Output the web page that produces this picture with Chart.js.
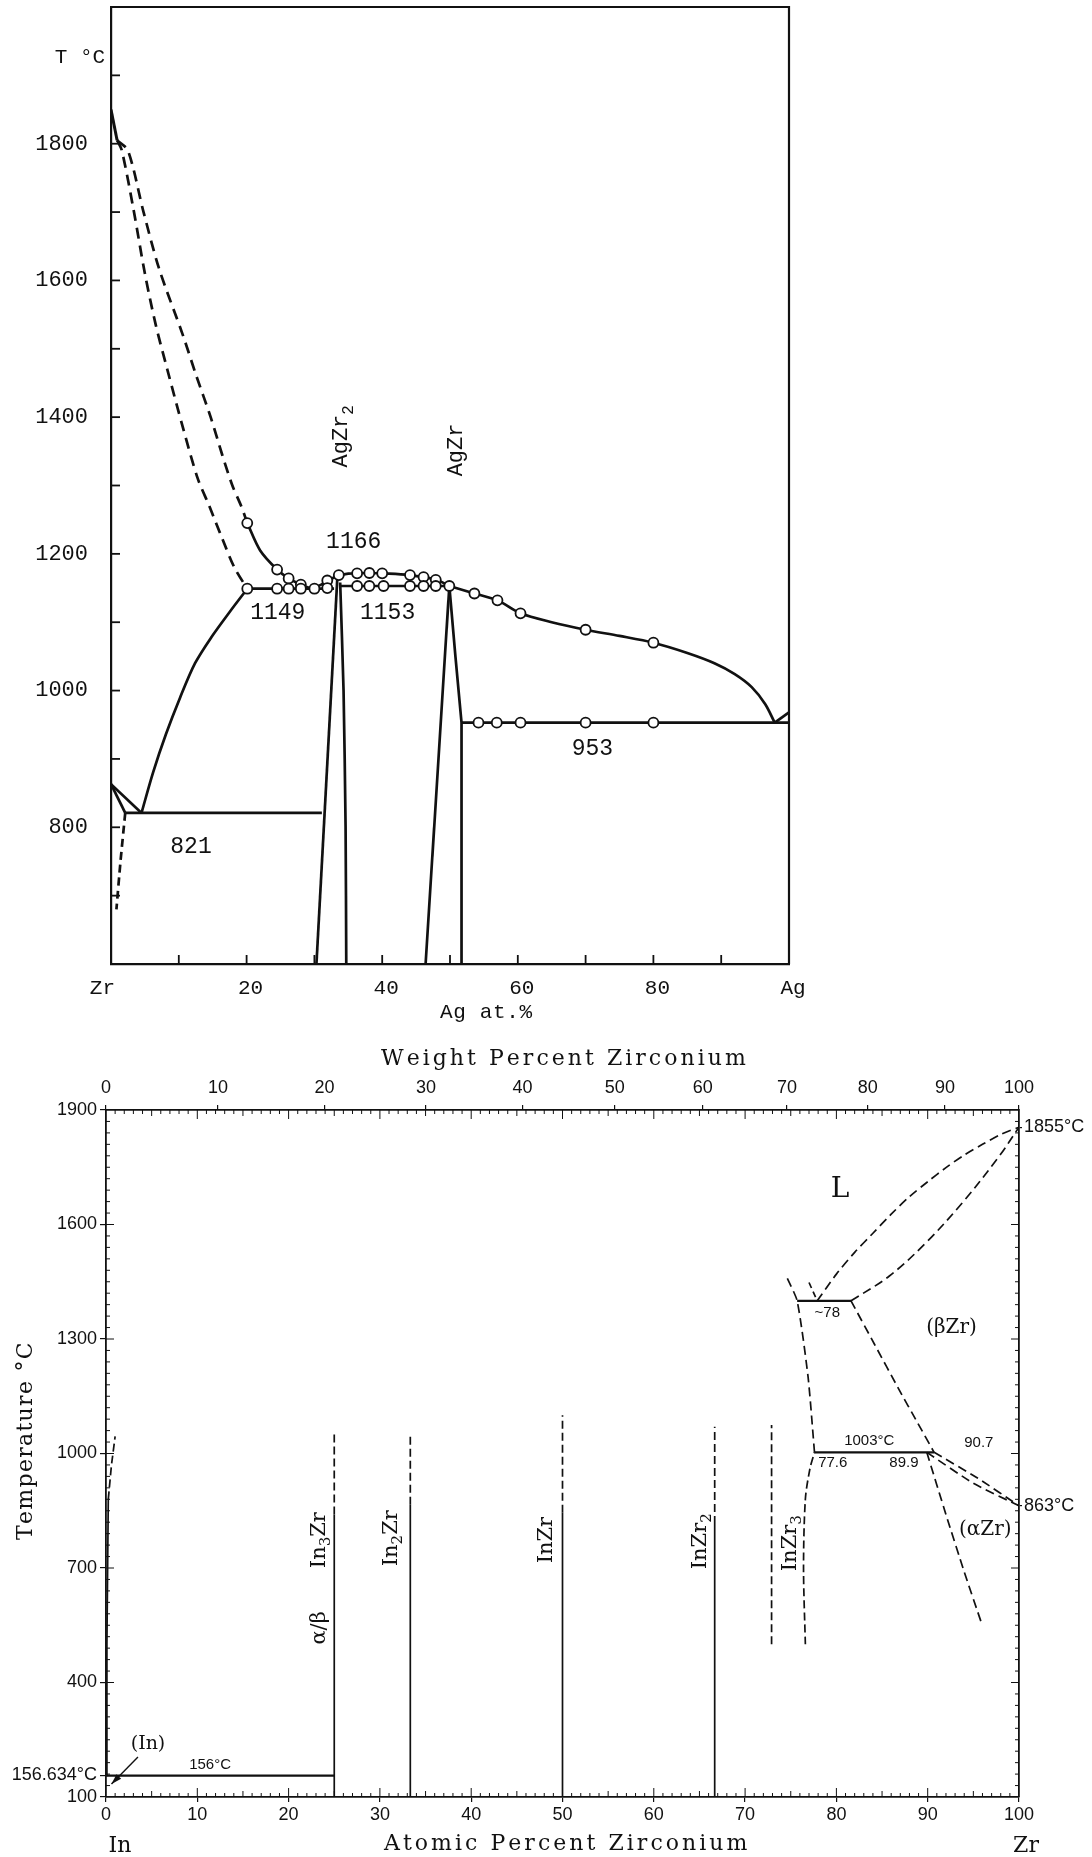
<!DOCTYPE html>
<html>
<head>
<meta charset="utf-8">
<title>Ag-Zr and In-Zr phase diagrams</title>
<script src="https://cdn.jsdelivr.net/npm/chart.js@4.4.1/dist/chart.umd.min.js"></script>
<style>
  html, body { margin: 0; padding: 0; background: #fff; }
  .box { position: absolute; left: 0; width: 1092px; }
  #topBox { top: 0; height: 1040px; }
  #bottomBox { top: 1040px; height: 817px; }
</style>
</head>
<body>
<div class="box" id="topBox"><canvas id="agZrChart"></canvas></div>
<div class="box" id="bottomBox"><canvas id="inZrChart"></canvas></div>
<script>
// ---------- Ag-Zr (upper diagram): x = at.% Ag, y = temperature °C ----------
const agXTicks = [0, 20, 40, 60, 80, 100];
const agXLabels = ['Zr  ', '20', '40', '60', '80', 'Ag'];
const agYTicks = [800, 1000, 1200, 1400, 1600, 1800];

const agZrMelt = [[0, 1850], [0.9, 1805]];
const agLiqDashOuter = [[0.9, 1805], [2.5, 1790], [4.8, 1700], [7.1, 1617], [10.6, 1520], [12.6, 1460], [14.7, 1400], [16.4, 1345], [17.9, 1300], [19.2, 1270], [20.1, 1245]];
const agLiqDashInner = [[0.9, 1805], [1.6, 1790], [3.3, 1705], [5, 1610], [6.6, 1535], [8.3, 1470], [10.6, 1385], [12.8, 1310], [14.5, 1270], [16.3, 1225], [18.2, 1180], [20.1, 1149]];
const agLiqZrSide = [[20.1, 1245], [22, 1205], [24.5, 1177], [26.2, 1164], [28, 1155], [29.6, 1149]];
const agLiqToAgZr2 = [[29.6, 1149], [31, 1155], [32.4, 1163], [33.4, 1168]];
const agEut1149 = [[20.1, 1149], [32.9, 1149]];
const agSolidusZr = [[4.5, 821], [6.2, 880], [8.1, 936], [10.2, 990], [12.4, 1040], [14.8, 1078], [17.5, 1115], [20.1, 1149]];
const agBetaA = [[0, 863], [4.5, 821]];
const agBetaB = [[0, 863], [2.1, 821]];
const agAlphaDash = [[2.1, 821], [1.4, 750], [0.8, 680]];
const agEut821 = [[2.1, 821], [31.1, 821]];
const agZr2Left = [[30.3, 600], [33.4, 1168]];
const agZr2Right = [[33.8, 1158], [34.3, 1000], [34.6, 800], [34.7, 600]];
const agHump = [[33.4, 1168], [35, 1171], [38, 1172], [41, 1171], [44, 1169], [46, 1166], [48, 1162], [49.9, 1153]];
const agPerit1153 = [[33.9, 1153], [49.9, 1153]];
const agZrLeft = [[46.4, 600], [49.9, 1153]];
const agZrRight = [[49.9, 1153], [50.8, 1050], [51.7, 953], [51.7, 600]];
const agLiqAgSide = [[49.9, 1153], [53.6, 1142], [57, 1132], [60.4, 1113], [65, 1100], [70, 1089], [75, 1080], [80, 1070], [85, 1055], [89, 1040], [92, 1024], [94.5, 1005], [96.5, 980], [97.9, 953]];
const agEut953 = [[51.7, 953], [100, 953]];
const agAgMelt = [[97.9, 953], [100, 968]];
const agCircles = [
  [20.1, 1245], [24.5, 1177], [26.2, 1164], [28, 1155], [31.9, 1161], [33.6, 1169],
  [36.3, 1171.5], [38.1, 1172], [40, 1171.5], [44.1, 1169], [46.1, 1166], [47.9, 1162],
  [20.1, 1149], [24.5, 1149], [26.2, 1149], [28, 1149], [30, 1149], [31.9, 1150],
  [36.3, 1153], [38.1, 1153], [40.2, 1153], [44.1, 1153], [46.1, 1153], [47.9, 1153], [49.9, 1153],
  [53.6, 1142], [57, 1132], [60.4, 1113], [70, 1089], [80, 1070],
  [54.2, 953], [56.9, 953], [60.4, 953], [70, 953], [80, 953]
];
const agNumberNotes = [['1166', 35.8, 1218], ['1149', 24.6, 1113], ['1153', 40.8, 1113], ['821', 11.8, 771], ['953', 71, 914]];
const agPhaseNames = [
  { parts: [['AgZr'], ['2', 1]], x: 34, y: 1372 },
  { parts: [['AgZr']], x: 50.9, y: 1352 }
];

// ---------- In-Zr (lower diagram): x = at.% Zr, y = temperature °C ----------
const inXTicks = [0, 10, 20, 30, 40, 50, 60, 70, 80, 90, 100];
const inYTicks = [100, 156.634, 400, 700, 1000, 1300, 1600, 1900];
const inYLabels = ['100', '156.634°C', '400', '700', '1000', '1300', '1600', '1900'];
const inY2Ticks = [863, 1855];
const inY2Labels = ['863°C', '1855°C'];
const wtLabels = ['0', '10', '20', '30', '40', '50', '60', '70', '80', '90', '100'];
const wtTickAt = [0, 12.27, 23.93, 35.04, 45.63, 55.72, 65.37, 74.6, 83.43, 91.89, 100];

const inLiqSolid = [[0, 156.6], [0.1, 500], [0.25, 880]];
const inLiqDash = [[0.25, 880], [0.6, 970], [1.0, 1045]];
const inEut156 = [[0, 156], [25, 156]];
const in3ZrSolid = [[25, 100], [25, 840]];
const in3ZrDash = [[25, 840], [25, 1050]];
const in2ZrSolid = [[33.33, 100], [33.33, 866]];
const in2ZrDash = [[33.33, 866], [33.33, 1050]];
const inZrSolid = [[50, 100], [50, 845]];
const inZrDash = [[50, 845], [50, 1100]];
const inZr2Solid = [[66.67, 100], [66.67, 815]];
const inZr2Dash = [[66.67, 815], [66.67, 1070]];
const inZr3Left = [[72.9, 500], [72.9, 1075]];
const inZr3Right = [[76.6, 500], [76.4, 700], [76.6, 880], [77.1, 960], [77.6, 1003]];
const betaLeft = [[77.6, 1003], [76.9, 1200], [75.7, 1400], [74.5, 1465]];
const liqShort = [[77.0, 1448], [77.9, 1400]];
const perit1400 = [[75.7, 1400], [81.6, 1400]];
const zrLiquidus = [[77.9, 1400], [80, 1470], [82, 1527], [84, 1577], [86, 1627], [88, 1673], [90, 1712], [92, 1749], [94, 1782], [96, 1810], [98, 1836], [100, 1855]];
const zrSolidus = [[81.6, 1400], [85.8, 1465], [89.8, 1552], [93.8, 1657], [97.8, 1778], [100, 1855]];
const betaTransus = [[81.6, 1400], [84.2, 1285], [86.8, 1170], [88.9, 1080], [90.7, 1003]];
const eut1003 = [[77.6, 1003], [90.7, 1003]];
const betaAlphaUpper = [[90.7, 1003], [95.5, 935], [100, 863]];
const betaAlphaLower = [[89.9, 1003], [95, 922], [100, 863]];
const alphaSolvus = [[89.9, 1003], [92, 840], [94, 690], [95.9, 555]];
const inZrNotes = [
  { parts: [['L']], x: 80.4, y: 1690, size: 28, serif: true },
  { parts: [['(βZr)']], x: 92.6, y: 1330, size: 20, serif: true },
  { parts: [['(αZr)']], x: 96.3, y: 800, size: 20, serif: true },
  { parts: [['~78']], x: 79.0, y: 1368, size: 15 },
  { parts: [['1003°C']], x: 83.6, y: 1032, size: 15 },
  { parts: [['77.6']], x: 79.6, y: 975, size: 15 },
  { parts: [['89.9']], x: 87.4, y: 975, size: 15 },
  { parts: [['90.7']], x: 95.6, y: 1028, size: 15 },
  { parts: [['156°C']], x: 11.4, y: 184, size: 15 },
  { parts: [['(In)']], x: 4.6, y: 238, size: 19, serif: true }
];
const inZrPhaseNames = [
  { parts: [['In'], ['3', 1], ['Zr']], x: 23.4, y: 773 },
  { parts: [['α/β']], x: 23.4, y: 543 },
  { parts: [['In'], ['2', 1], ['Zr']], x: 31.3, y: 778 },
  { parts: [['InZr']], x: 48.3, y: 773 },
  { parts: [['InZr'], ['2', 1]], x: 65.1, y: 770 },
  { parts: [['InZr'], ['3', 1]], x: 75.0, y: 765 }
];

// ---------- helpers ----------
const INK = '#111';
const MONO = '"Liberation Mono", "DejaVu Sans Mono", monospace';
const SERIF = '"DejaVu Serif", "Liberation Serif", serif';
const SANS = '"Liberation Sans", Arial, sans-serif';

const pts = a => a.map(([x, y]) => ({ x, y }));
function solid(a, w, tension) {
  return { data: pts(a), borderColor: INK, borderWidth: w, pointRadius: 0, tension: tension || 0, fill: false };
}
function dashed(a, w, dash, tension) {
  const d = solid(a, w, tension);
  d.borderDash = dash;
  return d;
}
function seg(ctx, x1, y1, x2, y2) {
  ctx.beginPath(); ctx.moveTo(x1, y1); ctx.lineTo(x2, y2); ctx.stroke();
}
// text made of parts, each [text, isSubscript]; centred on (x, y)
function drawParts(ctx, parts, x, y, size, family, rotate) {
  const fontFor = sub => `${sub ? Math.round(size * 0.72) : size}px ${family}`;
  const widths = parts.map(([s, sub]) => { ctx.font = fontFor(sub); return ctx.measureText(s).width; });
  const total = widths.reduce((p, c) => p + c, 0);
  ctx.save();
  ctx.translate(x, y);
  if (rotate) ctx.rotate(-Math.PI / 2);
  ctx.textBaseline = 'middle';
  ctx.textAlign = 'left';
  ctx.fillStyle = INK;
  let cx = -total / 2;
  parts.forEach(([s, sub], i) => {
    ctx.font = fontFor(sub);
    ctx.fillText(s, cx, sub ? size * 0.32 : 0);
    cx += widths[i];
  });
  ctx.restore();
}
// letter-spaced text stretched to a given width
function drawSpaced(ctx, text, cx, cy, width, font, rotate) {
  ctx.save();
  ctx.font = font;
  ctx.fillStyle = INK;
  ctx.textBaseline = 'middle';
  ctx.textAlign = 'left';
  ctx.translate(cx, cy);
  if (rotate) ctx.rotate(-Math.PI / 2);
  const natural = ctx.measureText(text).width;
  const gap = (width - natural) / (text.length - 1);
  let x = -width / 2;
  for (const ch of text) {
    ctx.fillText(ch, x, 0);
    x += ctx.measureText(ch).width + gap;
  }
  ctx.restore();
}

// ---------- upper chart ----------
const TOP_W = 2.7, TOP_DASH = [11, 7];
const agDatasets = [
  { data: pts(agCircles), showLine: false, pointRadius: 5, pointBackgroundColor: '#fff', pointBorderColor: INK, pointBorderWidth: 1.8 },
  solid(agZrMelt, 3),
  dashed(agLiqDashOuter, TOP_W, TOP_DASH, 0.3),
  dashed(agLiqDashInner, TOP_W, TOP_DASH, 0.3),
  solid(agLiqZrSide, TOP_W, 0.3),
  solid(agLiqToAgZr2, TOP_W, 0.3),
  solid(agEut1149, TOP_W),
  solid(agSolidusZr, TOP_W, 0.3),
  solid(agBetaA, TOP_W),
  solid(agBetaB, TOP_W),
  dashed(agAlphaDash, TOP_W, [8, 5], 0.2),
  solid(agEut821, TOP_W),
  solid(agZr2Left, TOP_W),
  solid(agZr2Right, TOP_W, 0.2),
  solid(agHump, TOP_W, 0.3),
  solid(agPerit1153, TOP_W),
  solid(agZrLeft, TOP_W),
  solid(agZrRight, TOP_W),
  solid(agLiqAgSide, TOP_W, 0.3),
  solid(agEut953, TOP_W),
  solid(agAgMelt, TOP_W)
];

const agZrDecor = {
  id: 'agZrDecor',
  afterDraw(chart) {
    const { ctx, chartArea: a, scales: { x, y } } = chart;
    ctx.save();
    ctx.strokeStyle = INK;
    ctx.lineWidth = 2.2;
    ctx.beginPath();
    ctx.moveTo(a.left, a.top); ctx.lineTo(a.right, a.top); ctx.lineTo(a.right, a.bottom);
    ctx.stroke();
    ctx.lineWidth = 1.8;
    for (let t = 700; t < 2000; t += 100) {
      const py = y.getPixelForValue(t);
      seg(ctx, a.left, py, a.left + 9, py);
    }
    for (let v = 10; v < 100; v += 10) {
      const px = x.getPixelForValue(v);
      seg(ctx, px, a.bottom, px, a.bottom - 9);
    }
    agNumberNotes.forEach(([s, vx, vy]) => drawParts(ctx, [[s]], x.getPixelForValue(vx), y.getPixelForValue(vy), 23, MONO));
    agPhaseNames.forEach(n => drawParts(ctx, n.parts, x.getPixelForValue(n.x), y.getPixelForValue(n.y), 22, MONO, true));
    drawParts(ctx, [['T °C']], 80, 57, 21, MONO);
    drawSpaced(ctx, 'Ag at.%', 486, 1012, 92, `21px ${MONO}`);
    ctx.restore();
  }
};

new Chart(document.getElementById('agZrChart'), {
  type: 'line',
  data: { datasets: agDatasets },
  options: {
    animation: false, responsive: true, maintainAspectRatio: false, devicePixelRatio: 1, events: [],
    layout: { padding: { top: 7, right: 303, bottom: 0, left: 0 } },
    plugins: { legend: { display: false }, tooltip: { enabled: false } },
    scales: {
      x: {
        type: 'linear', position: 'bottom', min: 0, max: 100,
        afterFit: s => { s.height = 76; },
        afterBuildTicks: s => { s.ticks = agXTicks.map(v => ({ value: v })); },
        grid: { display: false, drawTicks: false },
        border: { display: true, color: INK, width: 2.2 },
        ticks: { autoSkip: false, maxRotation: 0, padding: 12, labelOffset: 4, color: INK,
                 font: { family: MONO, size: 21 }, callback: (v, i) => agXLabels[i] }
      },
      y: {
        type: 'linear', position: 'left', min: 600, max: 2000,
        afterFit: s => { s.width = 111; s.paddingTop = 0; s.paddingBottom = 0; },
        afterBuildTicks: s => { s.ticks = agYTicks.map(v => ({ value: v })); },
        grid: { display: false, drawTicks: false },
        border: { display: true, color: INK, width: 2.2 },
        ticks: { autoSkip: false, padding: 23, labelOffset: 0, color: INK,
                 font: { family: MONO, size: 22 }, callback: v => String(v) }
      }
    }
  },
  plugins: [agZrDecor]
});

// ---------- lower chart ----------
const BW = 1.7, BDASH = [9, 5], VDASH = [8, 4];
const inDatasets = [
  solid(inLiqSolid, BW),
  dashed(inLiqDash, BW, VDASH),
  solid(inEut156, 2.2),
  solid(in3ZrSolid, BW), dashed(in3ZrDash, BW, VDASH),
  solid(in2ZrSolid, BW), dashed(in2ZrDash, BW, VDASH),
  solid(inZrSolid, BW), dashed(inZrDash, BW, VDASH),
  solid(inZr2Solid, BW), dashed(inZr2Dash, BW, VDASH),
  dashed(inZr3Left, BW, VDASH),
  dashed(inZr3Right, BW, VDASH, 0.3),
  dashed(betaLeft, BW, BDASH, 0.2),
  dashed(liqShort, BW, [6, 4]),
  solid(perit1400, 2.2),
  dashed(zrLiquidus, BW, BDASH, 0.3),
  dashed(zrSolidus, BW, BDASH, 0.35),
  dashed(betaTransus, BW, BDASH, 0.2),
  solid(eut1003, 2.2),
  dashed(betaAlphaUpper, BW, BDASH, 0.2),
  dashed(betaAlphaLower, BW, BDASH, 0.2),
  dashed(alphaSolvus, BW, BDASH, 0.2)
];

const inZrDecor = {
  id: 'inZrDecor',
  afterDraw(chart) {
    const { ctx, chartArea: a, scales: { x, y } } = chart;
    ctx.save();
    ctx.strokeStyle = INK;
    ctx.lineWidth = 1;
    for (let t = 130; t < 1900; t += 30) {
      const py = y.getPixelForValue(t);
      const len = (t - 100) % 300 === 0 ? 8 : 4;
      seg(ctx, a.left, py, a.left + len, py);
      seg(ctx, a.right, py, a.right - len, py);
    }
    for (let v = 1; v < 100; v++) {
      const px = x.getPixelForValue(v);
      const len = v % 10 === 0 ? 9 : (v % 5 === 0 ? 6 : 4);
      seg(ctx, px, a.bottom, px, a.bottom - len);
      seg(ctx, px, a.top, px, a.top + len);
    }
    // arrow pointing at the (In) terminal solution
    const ax1 = x.getPixelForValue(3.5), ay1 = y.getPixelForValue(205);
    const ax2 = x.getPixelForValue(0.6), ay2 = y.getPixelForValue(134);
    ctx.lineWidth = 1.4;
    seg(ctx, ax1, ay1, ax2, ay2);
    const ang = Math.atan2(ay2 - ay1, ax2 - ax1);
    ctx.fillStyle = INK;
    ctx.beginPath();
    ctx.moveTo(ax2, ay2);
    ctx.lineTo(ax2 - 11 * Math.cos(ang - 0.3), ay2 - 11 * Math.sin(ang - 0.3));
    ctx.lineTo(ax2 - 11 * Math.cos(ang + 0.3), ay2 - 11 * Math.sin(ang + 0.3));
    ctx.closePath();
    ctx.fill();
    inZrNotes.forEach(n => drawParts(ctx, n.parts, x.getPixelForValue(n.x), y.getPixelForValue(n.y), n.size, n.serif ? SERIF : SANS));
    inZrPhaseNames.forEach(n => drawParts(ctx, n.parts, x.getPixelForValue(n.x), y.getPixelForValue(n.y), 21, SERIF, true));
    drawSpaced(ctx, 'Weight Percent Zirconium', 562, 19, 362, `22px ${SERIF}`);
    drawSpaced(ctx, 'Atomic Percent Zirconium', 565, 804, 362, `22px ${SERIF}`);
    drawSpaced(ctx, 'Temperature °C', 26, 402, 196, `22px ${SERIF}`, true);
    drawParts(ctx, [['In']], 120, 806, 22, SERIF);
    drawParts(ctx, [['Zr']], 1026, 806, 22, SERIF);
    ctx.restore();
  }
};

const tickFont = { family: SANS, size: 18 };
new Chart(document.getElementById('inZrChart'), {
  type: 'line',
  data: { datasets: inDatasets },
  options: {
    animation: false, responsive: true, maintainAspectRatio: false, devicePixelRatio: 1, events: [],
    layout: { padding: 0 },
    plugins: { legend: { display: false }, tooltip: { enabled: false } },
    scales: {
      x: {
        type: 'linear', position: 'bottom', min: 0, max: 100,
        afterFit: s => { s.height = 60; },
        afterBuildTicks: s => { s.ticks = inXTicks.map(v => ({ value: v })); },
        grid: { display: true, drawOnChartArea: false, drawTicks: true, tickLength: 5, color: INK, lineWidth: 1.2 },
        border: { display: true, color: INK, width: 1.8 },
        ticks: { autoSkip: false, maxRotation: 0, padding: 2, color: INK, font: tickFont, callback: v => String(v) }
      },
      x2: {
        type: 'linear', position: 'top', min: 0, max: 100, display: true,
        afterFit: s => { s.height = 70; },
        afterBuildTicks: s => { s.ticks = wtTickAt.map(v => ({ value: v })); },
        grid: { display: true, drawOnChartArea: false, drawTicks: true, tickLength: 5, color: INK, lineWidth: 1.2 },
        border: { display: true, color: INK, width: 1.8 },
        ticks: { autoSkip: false, maxRotation: 0, padding: 6, color: INK, font: tickFont, callback: (v, i) => wtLabels[i] }
      },
      y: {
        type: 'linear', position: 'left', min: 100, max: 1900,
        afterFit: s => { s.width = 106; },
        afterBuildTicks: s => { s.ticks = inYTicks.map(v => ({ value: v })); },
        grid: { display: true, drawOnChartArea: false, drawTicks: true, tickLength: 6, color: INK, lineWidth: 1.2 },
        border: { display: true, color: INK, width: 1.8 },
        ticks: { autoSkip: false, padding: 3, color: INK, font: tickFont, callback: (v, i) => inYLabels[i] }
      },
      y2: {
        type: 'linear', position: 'right', min: 100, max: 1900, display: true,
        afterFit: s => { s.width = 73; },
        afterBuildTicks: s => { s.ticks = inY2Ticks.map(v => ({ value: v })); },
        grid: { display: true, drawOnChartArea: false, drawTicks: true, tickLength: 3, color: INK, lineWidth: 1.2 },
        border: { display: true, color: INK, width: 1.8 },
        ticks: { autoSkip: false, padding: 2, color: INK, font: tickFont, callback: (v, i) => inY2Labels[i] }
      }
    }
  },
  plugins: [inZrDecor]
});
</script>
</body>
</html>
